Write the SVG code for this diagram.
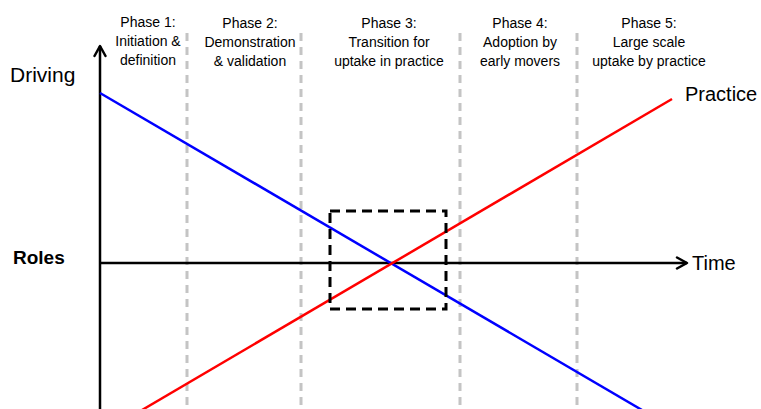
<svg xmlns="http://www.w3.org/2000/svg" width="761" height="409" viewBox="0 0 761 409">
<style>
text{font-family:"Liberation Sans",Arial,sans-serif;fill:#000}
.ph{font-size:14px;text-anchor:middle}
.big{font-size:20px}
.sep{stroke:#c4c4c4;stroke-width:3;stroke-dasharray:8 6;fill:none}
.ax{stroke:#000;stroke-width:2.5;fill:none}
</style>
<defs>
<marker id="arr" viewBox="0 0 14 14" refX="12" refY="7" markerWidth="14" markerHeight="14" markerUnits="userSpaceOnUse" orient="auto">
<path d="M2,1.5 L12,7 L2,12.5" fill="none" stroke="#000" stroke-width="2.5" stroke-linecap="round" stroke-linejoin="round"/>
</marker>
</defs>
<rect width="761" height="409" fill="#fff"/>
<g id="separators">
<line class="sep" x1="187" y1="33" x2="187" y2="409"/>
<line class="sep" x1="301" y1="33" x2="301" y2="409"/>
<line class="sep" x1="460" y1="33" x2="460" y2="409"/>
<line class="sep" x1="577" y1="33" x2="577" y2="409"/>
</g>
<g id="connectors">
<line class="ax" x1="100" y1="409" x2="100" y2="46" marker-end="url(#arr)"/>
<line class="ax" x1="100" y1="263" x2="687" y2="263" marker-end="url(#arr)"/>
<line x1="100" y1="93" x2="642" y2="410" stroke="#0000ff" stroke-width="2.5"/>
<line x1="142" y1="410" x2="672" y2="99" stroke="#ff0000" stroke-width="2.5"/>
<rect x="330" y="211" width="116" height="98" fill="none" stroke="#000" stroke-width="3" stroke-dasharray="10 6"/>
</g>
<g id="labels">
<text x="10" y="82" style="font-size:21px">Driving</text>
<text x="13" y="264" style="font-size:19px;font-weight:bold">Roles</text>
<text class="big" x="692" y="270">Time</text>
<text class="big" x="685" y="101">Practice</text>
</g>
<g id="phase1"><text class="ph" x="148" y="27">Phase 1:</text><text class="ph" x="148" y="46">Initiation &amp;</text><text class="ph" x="148" y="65">definition</text></g>
<g id="phase2"><text class="ph" x="250" y="28">Phase 2:</text><text class="ph" x="250" y="47">Demonstration</text><text class="ph" x="250" y="66">&amp; validation</text></g>
<g id="phase3"><text class="ph" x="389" y="28">Phase 3:</text><text class="ph" x="389" y="47">Transition for</text><text class="ph" x="389" y="66">uptake in practice</text></g>
<g id="phase4"><text class="ph" x="520" y="28">Phase 4:</text><text class="ph" x="520" y="47">Adoption by</text><text class="ph" x="520" y="66">early movers</text></g>
<g id="phase5"><text class="ph" x="649" y="28">Phase 5:</text><text class="ph" x="649" y="47">Large scale</text><text class="ph" x="649" y="66">uptake by practice</text></g>
</svg>
